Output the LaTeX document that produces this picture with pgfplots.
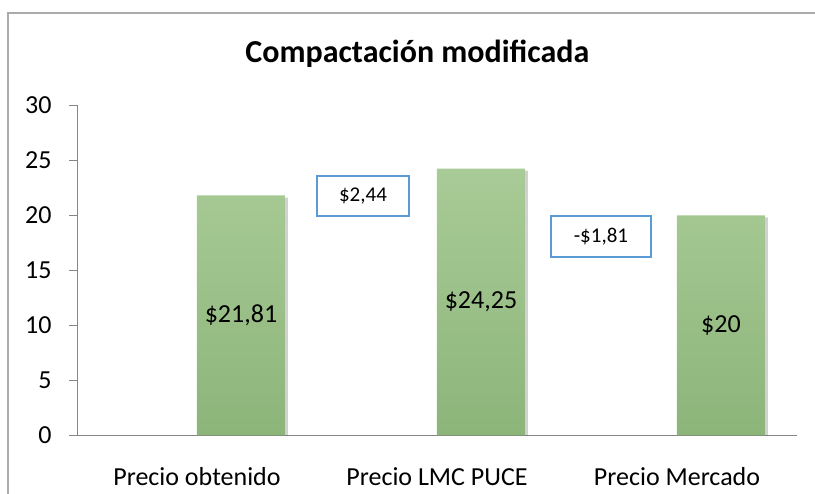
\documentclass[border=0pt]{standalone}
\usepackage{fontspec}
\setmainfont{Carlito}
\usepackage{pgfplots}
\pgfplotsset{compat=1.18}
\definecolor{bartop}{HTML}{A9CB97}
\definecolor{barbot}{HTML}{8CB57A}
\definecolor{boxblue}{HTML}{5B9BD5}
\definecolor{axgray}{HTML}{868686}
\definecolor{framegray}{HTML}{ABABAB}
\begin{document}
\begin{tikzpicture}[x=1pt,y=1pt]
\useasboundingbox (0,0) rectangle (815,494);
\draw[framegray, line width=1.5pt] (8,0) -- (8,481) -- (815,481);
\node[font=\fontsize{32}{38}\selectfont\bfseries, anchor=base, inner sep=0pt] at (417.4,431.3) {Compactación modificada};
\begin{axis}[
  at={(77pt,58.7pt)}, anchor=south west,
  scale only axis, width=720pt, height=330pt,
  xmin=-0.5, xmax=2.5, ymin=0, ymax=30,
  axis lines=left,
  axis line style={draw=axgray, line width=1pt, -},
  ytick={0,5,...,30},
  xtick={0,1,2},
  xticklabels={Precio obtenido, Precio LMC PUCE, Precio Mercado},
  major tick length=8pt, tick align=outside,
  ytick style={draw=axgray, line width=1pt},
  xtick style={draw=none},
  tick label style={font=\fontsize{26}{31}\selectfont},
  yticklabel style={anchor=east, inner sep=0pt, xshift=-17.3pt},
  xticklabel style={anchor=base, inner sep=0pt, yshift=-42.4pt},
  /pgf/number format/assume math mode=true,
  clip=false,
  bar width=0.3667,
]
\addplot[ybar, bar shift=0.1958, fill=black, opacity=0.18, draw=none] coordinates {(0,21.6) (1,24.05) (2,19.8)};
\addplot[ybar, bar shift=0.1833, draw=none, top color=bartop, bottom color=barbot] coordinates {(0,21.81) (1,24.25) (2,20)};
\node[font=\fontsize{26}{31}\selectfont] at (axis cs:0.1833,10.905) {\$21,81};
\node[font=\fontsize{26}{31}\selectfont] at (axis cs:1.1833,12.125) {\$24,25};
\node[font=\fontsize{26}{31}\selectfont] at (axis cs:2.1833,10) {\$20};
\node[draw=boxblue, line width=1.8pt, fill=white, minimum width=92pt, minimum height=40.3pt, inner sep=0pt, font=\fontsize{21}{25}\selectfont] at (axis cs:0.6917,21.75) {\$2,44};
\node[draw=boxblue, line width=1.8pt, fill=white, minimum width=99.7pt, minimum height=40.7pt, inner sep=0pt, font=\fontsize{21}{25}\selectfont] at (axis cs:1.683,18.09) {-\$1,81};
\end{axis}
\end{tikzpicture}
\end{document}
